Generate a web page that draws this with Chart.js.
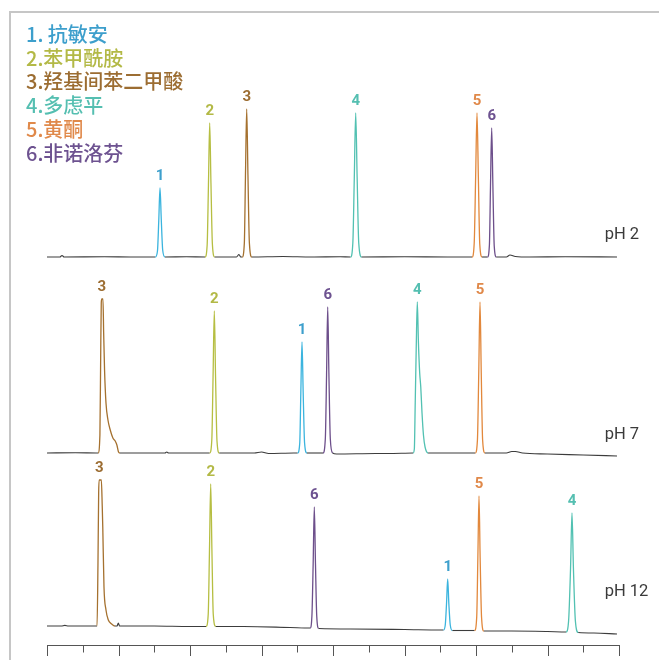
<!DOCTYPE html>
<html>
<head>
<meta charset="utf-8">
<script src="https://cdn.jsdelivr.net/npm/chart.js@4.4.1/dist/chart.umd.min.js"></script>
<style>
  html, body { margin: 0; padding: 0; background: #fff; }
  #wrap { position: relative; width: 659px; height: 660px; }
</style>
</head>
<body>
<div id="wrap"><canvas id="chromChart" width="659" height="660"></canvas></div>
<script>
// legend entries, numbered like the peaks
const legendLabels = ["1. 抗敏安", "2.苯甲酰胺", "3.羟基间苯二甲酸", "4.多虑平", "5.黄酮", "6.非诺洛芬"];
const lineColors = ["#3bb4de", "#b6be42", "#a5712f", "#52c1b2", "#e2883c", "#6d4f8b"];
const textColors = ["#3d9fcc", "#b3b946", "#9c6d32", "#55bfb1", "#e0894a", "#6d5290"];
const traceNames = ["pH 2", "pH 7", "pH 12"];

// [time, signal]
const ph2Trace = [
  [0, 0], [0.36, 0], [0.42, 1.5], [0.48, 0], [1.6, 0.3], [2.4, 0],
  [3.03, 0], [3.09, 6], [3.126, 36], [3.161, 69], [3.196, 38], [3.236, 7], [3.30, 0],
  [3.9, 0.3],
  [4.42, 0], [4.48, 12], [4.516, 72], [4.551, 134], [4.586, 74], [4.626, 13], [4.69, 0],
  [5.30, 0], [5.37, 2.5], [5.42, 0],
  [5.46, 0], [5.52, 14], [5.551, 80], [5.586, 148], [5.621, 82], [5.661, 14], [5.73, 0],
  [6.6, 0.5], [7.4, 0], [8.2, 0.3],
  [8.49, 0], [8.555, 14], [8.595, 78], [8.635, 144], [8.675, 80], [8.72, 14], [8.80, 0],
  [10.0, 0.3], [11.2, 0],
  [11.89, 0], [11.95, 14], [11.99, 80], [12.028, 144], [12.066, 80], [12.105, 13], [12.17, 0],
  [12.32, 0], [12.375, 12], [12.405, 70], [12.439, 129], [12.473, 70], [12.51, 11], [12.57, 0],
  [12.85, 0], [12.95, 2], [13.1, 0.5], [13.5, 0], [14.5, 0.3], [15.944, 0]
];
const ph7Trace = [
  [0, 0], [0.8, 0.3], [1.43, 0],
  [1.48, 18], [1.50, 90], [1.518, 150], [1.533, 154], [1.565, 154], [1.585, 120], [1.61, 83],
  [1.65, 50], [1.705, 33], [1.769, 23], [1.843, 15], [1.908, 12], [1.955, 8], [2.0, 1], [2.04, 0],
  [3.3, 0], [3.35, 1], [3.4, 0],
  [4.55, 0], [4.61, 13], [4.645, 76], [4.680, 142], [4.715, 76], [4.755, 12], [4.82, 0],
  [5.8, 0], [6.0, 1], [6.2, -0.5], [6.9, 0],
  [7.01, 0], [7.07, 10], [7.10, 60], [7.133, 111], [7.166, 60], [7.205, 10], [7.27, 0],
  [7.72, 0], [7.785, 14], [7.82, 78], [7.852, 146], [7.885, 80], [7.925, 14], [7.99, 0],
  [8.1, -1], [9.2, -0.5],
  [10.24, 0], [10.275, 4], [10.30, 50], [10.328, 105], [10.358, 151], [10.39, 110], [10.425, 80],
  [10.455, 66], [10.49, 40], [10.53, 18], [10.575, 6], [10.66, 0],
  [11.98, 0], [12.04, 13], [12.077, 80], [12.112, 151], [12.147, 80], [12.185, 13], [12.25, 0],
  [12.85, 0], [13.0, 1.5], [13.1, 1.5], [13.3, 0], [14.0, -1], [15.0, -2], [15.944, -3]
];
const ph12Trace = [
  [0, 0], [0.4, 0], [0.5, 0.6], [0.6, 0], [1.40, 0],
  [1.425, 60], [1.445, 133], [1.46, 146], [1.52, 146], [1.545, 120], [1.56, 99], [1.594, 39],
  [1.65, 16], [1.715, 6], [1.81, 2], [1.90, 0],
  [1.96, 0], [1.995, 3], [2.03, 0], [3.0, 0], [4.0, -0.5],
  [4.45, -0.5], [4.51, 12], [4.545, 76], [4.579, 142], [4.613, 76], [4.65, 12], [4.72, -0.5],
  [5.5, -0.5], [6.8, -1.5],
  [7.36, -2], [7.41, 10], [7.445, 62], [7.477, 119], [7.51, 62], [7.545, 10], [7.60, -2.5],
  [8.5, -3], [10.0, -3.5], [11.0, -4],
  [11.09, -4], [11.14, 1], [11.175, 22], [11.208, 47], [11.241, 22], [11.28, 1], [11.34, -4.5],
  [11.96, -4.5], [12.02, 9], [12.052, 68], [12.084, 130], [12.116, 68], [12.155, 9], [12.22, -5],
  [13.0, -5], [14.0, -5.5],
  [14.52, -6], [14.59, 5], [14.645, 58], [14.685, 113], [14.725, 58], [14.78, 5], [14.86, -6.5],
  [15.3, -7], [15.944, -8]
];

// [compound no., peak start, peak end]
const ph2Peaks = [[1, 3.03, 3.30], [2, 4.42, 4.69], [3, 5.46, 5.73], [4, 8.49, 8.80], [5, 11.89, 12.17], [6, 12.32, 12.57]];
const ph7Peaks = [[3, 1.43, 2.04], [2, 4.55, 4.82], [1, 7.01, 7.27], [6, 7.72, 7.99], [4, 10.24, 10.66], [5, 11.98, 12.25]];
const ph12Peaks = [[3, 1.40, 1.90], [2, 4.45, 4.72], [6, 7.36, 7.60], [1, 11.09, 11.34], [5, 11.96, 12.22], [4, 14.52, 14.86]];

const traces = [ph2Trace, ph7Trace, ph12Trace];
const peakSets = [ph2Peaks, ph7Peaks, ph12Peaks];
const axisIds = ["y2", "y7", "y12"];
const nameLevels = [22, 18, 34];

const baseColor = "#3c3c3c";

function peakFor(peaks, x0, x1) {
  for (const p of peaks) {
    if (x0 >= p[1] - 1e-6 && x1 <= p[2] + 1e-6) return p;
  }
  return null;
}

const datasets = traces.map((tr, i) => ({
  label: traceNames[i],
  data: tr.map(([t, s]) => ({ x: t, y: s })),
  yAxisID: axisIds[i],
  borderColor: baseColor,
  borderWidth: 1.1,
  pointRadius: 0,
  cubicInterpolationMode: "monotone",
  segment: {
    borderColor: (ctx) => {
      const p = peakFor(peakSets[i], ctx.p0.parsed.x, ctx.p1.parsed.x);
      return p ? lineColors[p[0] - 1] : baseColor;
    },
    borderWidth: (ctx) => (peakFor(peakSets[i], ctx.p0.parsed.x, ctx.p1.parsed.x) ? 1.3 : 1.1),
  },
}));

const decor = {
  id: "decor",
  beforeDraw(chart) {
    const c = chart.ctx;
    c.save();
    c.strokeStyle = "#c6c6c6";
    c.lineWidth = 2;
    c.beginPath();
    c.moveTo(10, 660);
    c.lineTo(10, 12);
    c.lineTo(659, 12);
    c.stroke();
    c.restore();
  },
  afterDraw(chart) {
    const c = chart.ctx;
    const xs = chart.scales.x;
    const bottom = chart.chartArea.bottom;
    c.save();

    // tick marks under the axis, longer on even steps
    c.strokeStyle = "#555";
    c.lineWidth = 1;
    xs.ticks.forEach((t) => {
      const px = Math.round(xs.getPixelForValue(t.value)) + 0.5;
      c.beginPath();
      c.moveTo(px, bottom);
      c.lineTo(px, bottom + (t.value % 2 === 0 ? 11 : 7.5));
      c.stroke();
    });

    // peak numbers
    c.font = 'bold 15px Roboto, "Noto Sans", sans-serif';
    c.textAlign = "center";
    c.textBaseline = "middle";
    traces.forEach((tr, i) => {
      const ys = chart.scales[axisIds[i]];
      peakSets[i].forEach(([n, a, b]) => {
        let best = null;
        tr.forEach(([t, s]) => {
          if (t >= a && t <= b && (!best || s > best[1])) best = [t, s];
        });
        c.fillStyle = textColors[n - 1];
        c.fillText(String(n), xs.getPixelForValue(best[0]), ys.getPixelForValue(best[1]) - 12);
      });
    });

    // trace names
    c.font = '16.5px Roboto, "Noto Sans", sans-serif';
    c.fillStyle = "#3a3a3a";
    c.textAlign = "left";
    traceNames.forEach((name, i) => {
      const ys = chart.scales[axisIds[i]];
      c.fillText(name, xs.getPixelForValue(15.6), ys.getPixelForValue(nameLevels[i]));
    });

    // compound legend
    c.font = '500 20px "Noto Sans CJK SC", "Noto Sans", sans-serif';
    legendLabels.forEach((txt, i) => {
      c.fillStyle = textColors[i];
      c.fillText(txt, 26, 34.5 + i * 23.7);
    });
    c.restore();
  },
};

const chart = new Chart(document.getElementById("chromChart"), {
  type: "line",
  data: { datasets },
  options: {
    responsive: false,
    animation: false,
    layout: { padding: { left: 47, right: 40, top: 20, bottom: 15 } },
    scales: {
      x: {
        type: "linear",
        min: 0,
        max: 16,
        ticks: { display: false, stepSize: 1 },
        grid: { drawOnChartArea: false, drawTicks: false },
        border: { display: true, color: "#555", width: 1 },
      },
      y2: { display: false, min: -388, max: 237 },
      y7: { display: false, min: -192, max: 433 },
      y12: { display: false, min: -19, max: 606 },
    },
    plugins: {
      legend: { display: false },
      tooltip: { enabled: false },
    },
  },
  plugins: [decor],
});
</script>
</body>
</html>
